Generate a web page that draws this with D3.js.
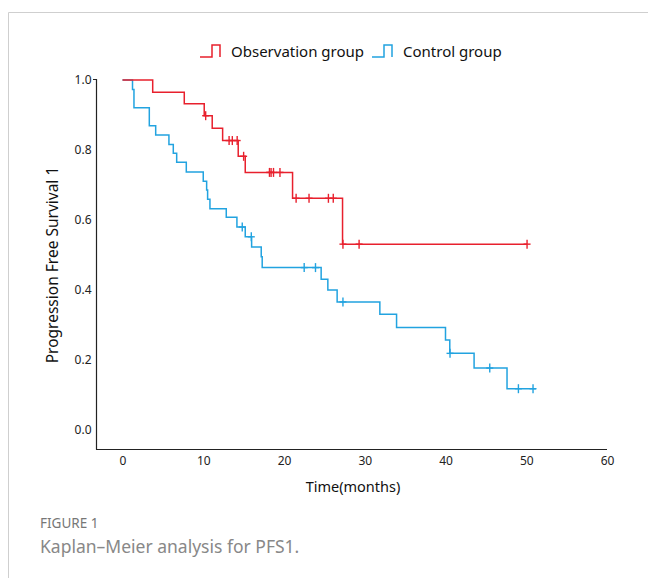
<!DOCTYPE html>
<html>
<head>
<meta charset="utf-8">
<script src="https://cdn.jsdelivr.net/npm/d3@7"></script>
<style>
body { margin: 0; background: #fff; }
svg { display: block; }
</style>
</head>
<body>
<script>
// Observation group: event times (months) and survival after each step
var obsTimes = [0, 3.74, 7.65, 10.12, 11.11, 12.40, 14.33, 15.20, 21.06, 27.25]
var obsSurv = [1.0, 0.965, 0.932, 0.898, 0.862, 0.827, 0.782, 0.736, 0.662, 0.531]
var obsCensor = [10.3, 13.2, 13.6, 14.2, 15.0, 18.2, 18.4, 18.7, 19.5, 21.5, 23.1, 25.5, 26.1, 27.3, 29.3, 50.1]

// Control group
var ctrlTimes = [0, 1.24, 1.42, 3.32, 4.11, 5.75, 6.29, 6.71, 7.90, 10.0, 10.42, 10.54, 10.83, 12.85, 14.17, 15.20, 15.99, 17.18, 17.30, 24.6, 25.43, 26.58, 31.87, 33.94, 40.0, 40.53, 43.54, 47.62]
var ctrlSurv = [1.0, 0.973, 0.921, 0.869, 0.843, 0.816, 0.791, 0.765, 0.737, 0.711, 0.686, 0.659, 0.632, 0.608, 0.580, 0.552, 0.523, 0.495, 0.464, 0.431, 0.400, 0.366, 0.331, 0.293, 0.257, 0.219, 0.177, 0.118]
var ctrlCensor = [14.83, 15.95, 22.5, 23.9, 27.3, 40.56, 45.48, 49.03, 50.84]
var ctrlEnd = 51.2

var xTicks = [0, 10, 20, 30, 40, 50, 60]
var yTicks = [0.0, 0.2, 0.4, 0.6, 0.8, 1.0]

var red = "#e8202d"
var blue = "#22a3e0"

var svg = d3.select("body").append("svg")
    .attr("width", 648)
    .attr("height", 578)

// card border
svg.append("path")
    .attr("d", "M8.5,578 L8.5,12.5 L648,12.5")
    .attr("fill", "none")
    .attr("stroke", "#cfcfcf")
    .attr("stroke-width", 1)

var x = d3.scaleLinear().domain([0, 60]).range([122.5, 607])
var y = d3.scaleLinear().domain([0, 1]).range([430, 80])

var font = "'Noto Sans', 'Open Sans', sans-serif"

// axis lines
svg.append("line")
    .attr("x1", 96.5).attr("x2", 96.5)
    .attr("y1", 79).attr("y2", 449.5)
    .attr("stroke", "#222").attr("stroke-width", 1.2)
svg.append("line")
    .attr("x1", 96).attr("x2", x(60))
    .attr("y1", 449.5).attr("y2", 449.5)
    .attr("stroke", "#222").attr("stroke-width", 1.2)
svg.append("line")
    .attr("x1", 93).attr("x2", 96.5)
    .attr("y1", 79.5).attr("y2", 79.5)
    .attr("stroke", "#222").attr("stroke-width", 1)

var xAxis = svg.append("g")
    .attr("transform", "translate(0,449.5)")
    .call(d3.axisBottom(x).tickValues(xTicks).tickSize(0).tickPadding(7).tickFormat(d3.format("d")))
xAxis.select(".domain").remove()
xAxis.selectAll("text").attr("font-family", font).attr("font-size", 12).attr("fill", "#222")

var yAxis = svg.append("g")
    .attr("transform", "translate(96.5,0)")
    .call(d3.axisLeft(y).tickValues(yTicks).tickSize(0).tickPadding(5).tickFormat(d3.format(".1f")))
yAxis.select(".domain").remove()
yAxis.selectAll("text").attr("font-family", font).attr("font-size", 12).attr("fill", "#222")

// axis titles
svg.append("text")
    .attr("x", 353).attr("y", 492)
    .attr("text-anchor", "middle")
    .attr("font-family", font).attr("font-size", 14.5).attr("fill", "#111")
    .text("Time(months)")
svg.append("text")
    .attr("transform", "translate(58,265) rotate(-90)")
    .attr("text-anchor", "middle")
    .attr("font-family", font).attr("font-size", 15.5).attr("fill", "#111")
    .text("Progression Free Survival 1")

// survival lookup for censor marks
function survAt(times, surv, t) {
    var s = surv[0]
    for (var i = 0; i < times.length; i++) {
        if (times[i] <= t) s = surv[i]
    }
    return s
}

var line = d3.line()
    .x(function(d) { return x(d[0]) })
    .y(function(d) { return y(d[1]) })
    .curve(d3.curveStepAfter)

function drawCurve(times, surv, censor, end, color) {
    var pts = []
    for (var i = 0; i < times.length; i++) {
        pts.push([times[i], surv[i]])
    }
    pts.push([end, surv[surv.length - 1]])
    svg.append("path")
        .attr("d", line(pts))
        .attr("fill", "none")
        .attr("stroke", color)
        .attr("stroke-width", 1.5)
    for (var j = 0; j < censor.length; j++) {
        var cx = x(censor[j])
        var cy = y(survAt(times, surv, censor[j]))
        svg.append("line")
            .attr("x1", cx).attr("x2", cx)
            .attr("y1", cy - 4.5).attr("y2", cy + 4.5)
            .attr("stroke", color).attr("stroke-width", 1.4)
        svg.append("line")
            .attr("x1", cx - 3.5).attr("x2", cx + 3.5)
            .attr("y1", cy).attr("y2", cy)
            .attr("stroke", color).attr("stroke-width", 1.4)
    }
}

drawCurve(ctrlTimes, ctrlSurv, ctrlCensor, ctrlEnd, blue)
drawCurve(obsTimes, obsSurv, obsCensor, 50.1, red)

// legend
var legend = [
    { name: "Observation group", color: red, x: 200 },
    { name: "Control group", color: blue, x: 372 }
]
legend.forEach(function(d) {
    svg.append("path")
        .attr("d", "M" + d.x + ",57 H" + (d.x + 12) + " V45 H" + (d.x + 20) + " V57")
        .attr("fill", "none")
        .attr("stroke", d.color)
        .attr("stroke-width", 1.5)
    svg.append("text")
        .attr("x", d.x + 31).attr("y", 57)
        .attr("font-family", font).attr("font-size", 15).attr("fill", "#111")
        .text(d.name)
})

// caption
svg.append("text")
    .attr("x", 40).attr("y", 528)
    .attr("font-family", font).attr("font-size", 13.5).attr("fill", "#777")
    .text("FIGURE 1")
svg.append("text")
    .attr("x", 40).attr("y", 553)
    .attr("font-family", font).attr("font-size", 17.5).attr("fill", "#888")
    .text("Kaplan\u2013Meier analysis for PFS1.")
</script>
</body>
</html>
